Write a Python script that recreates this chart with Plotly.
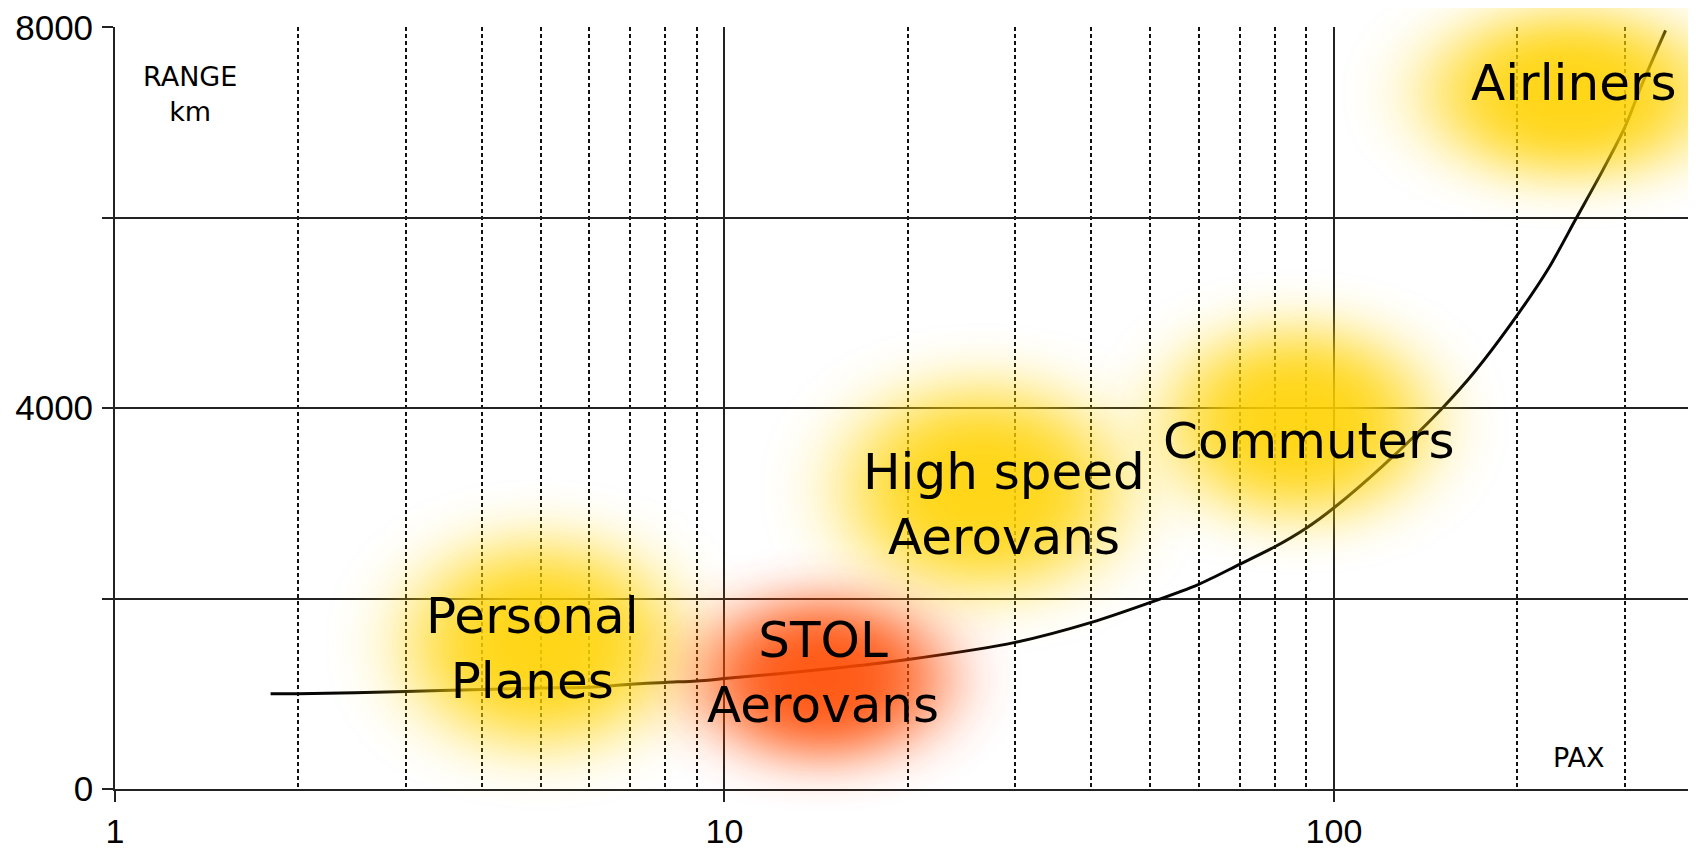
import base64
import numpy as np
import plotly.graph_objects as go

# ---- data ----
pax = [1.8, 2, 3, 4, 5, 6, 7, 8, 9, 10, 15, 20, 30, 40, 50, 60, 70, 80, 90,
       100, 120, 150, 170, 200, 225, 250, 275, 300, 320, 350]
range_km = [1000, 1000, 1025, 1045, 1060, 1070, 1100, 1120, 1135, 1160, 1265,
            1360, 1540, 1750, 1960, 2150, 2360, 2545, 2740, 2955, 3390, 3990,
            4380, 4980, 5470, 6000, 6480, 6950, 7400, 7970]

classes = ["Personal<br>Planes", "STOL<br>Aerovans", "High speed<br>Aerovans",
           "Commuters", "Airliners"]
label_pax = [4.85, 14.5, 28.8, 91, 248]
label_km = [1476, 1225, 2989, 3654, 7413]

# highlight zones: centre (pax, km), extent (decades, km), colour
zone_pax = [5.0, 26.5, 87.3, 244, 14.5]
zone_km = [1520, 3150, 3850, 7300, 1160]
zone_w_dec = [0.72, 0.74, 0.70, 0.76, 0.66]
zone_h_km = [3500, 3500, 3250, 2900, 2800]
zone_color = ["#FFD200", "#FFD200", "#FFD200", "#FFD200", "#FF4A00"]

x_major = [1, 10, 100]
x_minor = [2, 3, 4, 5, 6, 7, 8, 9, 20, 30, 40, 50, 60, 70, 80, 90, 200, 300]
y_ticks = [0, 2000, 4000, 6000, 8000]
y_text = ["0", "", "4000", "", "8000"]

XMAX = 2.594
YMAX = 8000

W, H = 1688, 847


def blob_svg(color):
    svg = (
        "<svg xmlns='http://www.w3.org/2000/svg' width='400' height='400' "
        "viewBox='0 0 400 400' preserveAspectRatio='none'>"
        "<defs><filter id='b' x='-60%' y='-60%' width='220%' height='220%'>"
        "<feGaussianBlur stdDeviation='38'/></filter></defs>"
        f"<ellipse cx='200' cy='200' rx='118' ry='118' fill='{color}' filter='url(#b)'/>"
        "</svg>"
    )
    return "data:image/svg+xml;base64," + base64.b64encode(svg.encode()).decode()


fig = go.Figure()
fig.add_trace(go.Scatter(
    x=pax, y=range_km, mode="lines",
    line=dict(color="#050505", width=3, shape="spline", smoothing=0.8),
    hoverinfo="skip", showlegend=False,
))

images = []
for p, k, wd, hk, c in zip(zone_pax, zone_km, zone_w_dec, zone_h_km, zone_color):
    lx = np.log10(p)
    images.append(dict(
        source=blob_svg(c), xref="paper", yref="paper",
        x=lx / XMAX, y=k / YMAX, sizex=wd / XMAX, sizey=hk / YMAX,
        xanchor="center", yanchor="middle", sizing="stretch",
        opacity=0.9, layer="above",
    ))

annotations = []
for t, p, k in zip(classes, label_pax, label_km):
    annotations.append(dict(
        x=np.log10(p), y=k, xref="x", yref="y", text=t, showarrow=False,
        font=dict(family="DejaVu Sans", size=50, color="#000000"),
        xanchor="center", yanchor="middle", align="center",
    ))
annotations.append(dict(
    x=np.log10(1.33), y=7300, xref="x", yref="y", text="RANGE<br>km",
    showarrow=False, font=dict(family="DejaVu Sans", size=27, color="#000"),
    xanchor="center", yanchor="middle", align="center",
))
annotations.append(dict(
    x=np.log10(252), y=335, xref="x", yref="y", text="PAX",
    showarrow=False, font=dict(family="DejaVu Sans", size=27, color="#000"),
    xanchor="center", yanchor="middle",
))

fig.update_layout(
    width=W, height=H,
    margin=dict(l=107, r=0, t=16, b=66, pad=0),
    paper_bgcolor="white", plot_bgcolor="white",
    images=images, annotations=annotations,
    xaxis=dict(
        type="log", range=[0, XMAX], tickvals=x_major,
        ticktext=[str(v) for v in x_major],
        ticks="outside", ticklen=11, tickwidth=1.6, tickcolor="#222",
        showgrid=True, gridcolor="#222", gridwidth=1.5,
        minor=dict(tickvals=x_minor, showgrid=True, gridcolor="#111",
                   griddash="4px,3px", gridwidth=1.5, ticks=""),
        showline=True, linecolor="#222", linewidth=1.8, zeroline=False,
        tickfont=dict(family="Liberation Sans", size=34, color="#000"),
        ticklabeloverflow="allow",
    ),
    yaxis=dict(
        range=[0, YMAX * 1.0006], tickvals=y_ticks, ticktext=y_text,
        ticks="outside", ticklen=11, tickwidth=1.6, tickcolor="#222",
        showgrid=True, gridcolor="#222", gridwidth=1.5,
        showline=True, linecolor="#222", linewidth=1.8, zeroline=False,
        tickfont=dict(family="Liberation Sans", size=35, color="#000"),
        ticklabelstandoff=2, ticklabeloverflow="allow",
    ),
)

fig.write_html("out.html")
